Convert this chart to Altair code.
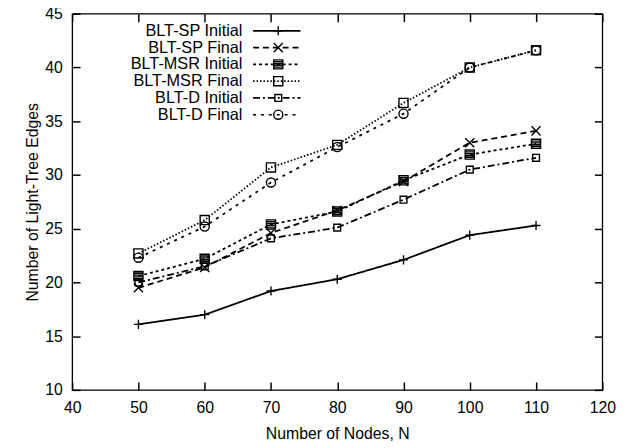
import altair as alt
import pandas as pd

# ---- data ----
nodes = [50, 60, 70, 80, 90, 100, 110]
series_names = ["BLT-SP Initial", "BLT-SP Final", "BLT-MSR Initial",
                "BLT-MSR Final", "BLT-D Initial", "BLT-D Final"]
sp_initial = [16.1, 17.0, 19.2, 20.3, 22.1, 24.4, 25.3]
sp_final = [19.5, 21.4, 24.6, 26.7, 29.4, 33.0, 34.1]
msr_initial = [20.6, 22.2, 25.4, 26.6, 29.5, 31.9, 32.9]
msr_final = [22.7, 25.8, 30.7, 32.8, 36.7, 40.0, 41.6]
d_initial = [20.0, 21.5, 24.1, 25.1, 27.7, 30.5, 31.6]
d_final = [22.3, 25.2, 29.3, 32.6, 35.7, 40.0, 41.6]

x_ticks = [40, 50, 60, 70, 80, 90, 100, 110, 120]
y_ticks = [10, 15, 20, 25, 30, 35, 40, 45]

all_values = [sp_initial, sp_final, msr_initial, msr_final, d_initial, d_final]

# ---- styles ----
FONT = "Liberation Sans"
dashes = [[1, 0], [6, 4], [3, 3], [1.5, 2], [7, 3, 2, 3], [3, 5]]
plus = "M-1,0L1,0M0,-1L0,1"
cross = "M-1,-1L1,1M-1,1L1,-1"
filled_square = ("M-1,-1L1,-1L1,1L-1,1Z"
                 "M-1,-0.6L1,-0.6M-1,-0.2L1,-0.2M-1,0.2L1,0.2M-1,0.6L1,0.6")
open_square = "M-1,-1L1,-1L1,1L-1,1Z"
small_square = "M-0.75,-0.75L0.75,-0.75L0.75,0.75L-0.75,0.75Z"
shapes = [plus, cross, filled_square, open_square, small_square, "circle"]
legend_line = "M-4,0L4,0"
INWARD = {"expr": "-8"}

rows = []
for i, (name, vals) in enumerate(zip(series_names, all_values)):
    for n, v in zip(nodes, vals):
        rows.append({"N": n, "edges": v, "series": name, "marker": f"m{i}"})
df = pd.DataFrame(rows)
marker_names = [f"m{i}" for i in range(len(series_names))]

xscale = alt.Scale(domain=[40, 120], nice=False, zero=False)
yscale = alt.Scale(domain=[10, 45], nice=False, zero=False)

tick_style = dict(ticks=True, tickSize=INWARD, tickColor="black", tickWidth=1.5,
                  domain=False, grid=False)

xaxis = alt.Axis(values=x_ticks, title="Number of Nodes, N", labelPadding=18,
                 labelFlush=False, titlePadding=10, **tick_style)
yaxis = alt.Axis(values=y_ticks, title="Number of Light-Tree Edges", labelPadding=18,
                 titlePadding=4, **tick_style)
xaxis_top = alt.Axis(values=x_ticks, orient="top", labels=False, title=None, **tick_style)
yaxis_right = alt.Axis(values=y_ticks, orient="right", labels=False, title=None, **tick_style)

legend_lines = alt.Legend(title=None, orient="none", legendX=39, legendY=9,
                          symbolType=legend_line, symbolSize=144, symbolOffset=160,
                          symbolStrokeWidth=1.7, symbolStrokeColor="black",
                          labelAlign="right", labelOffset={"expr": "-43"},
                          labelFontSize=16.5, labelFont=FONT, labelColor="black",
                          rowPadding=0, labelLimit=300)
legend_marks = alt.Legend(title=None, orient="none", legendX=200.5, legendY=9,
                          symbolSize=85, symbolStrokeWidth=1.4,
                          symbolStrokeColor="black", labelFontSize=16.5,
                          labelFont=FONT, labelOpacity=0, rowPadding=0)

base = alt.Chart(df)

lines = base.mark_line(color="black", strokeWidth=1.8).encode(
    x=alt.X("N:Q", scale=xscale, axis=xaxis),
    y=alt.Y("edges:Q", scale=yscale, axis=yaxis),
    strokeDash=alt.StrokeDash("series:N",
                              scale=alt.Scale(domain=series_names, range=dashes),
                              legend=legend_lines),
)

points = base.mark_point(filled=False, color="black", strokeWidth=1.4, size=85,
                         opacity=1).encode(
    x=alt.X("N:Q", axis=None),
    y=alt.Y("edges:Q", axis=None),
    shape=alt.Shape("marker:N", scale=alt.Scale(domain=marker_names, range=shapes),
                    legend=legend_marks),
)

xt = pd.DataFrame({"N": x_ticks})
yt = pd.DataFrame({"edges": y_ticks})

# invisible carriers of the mirrored top and right axes
top_axis = alt.Chart(xt).mark_rule(opacity=0).encode(
    x=alt.X("N:Q", scale=xscale, axis=xaxis_top))
right_axis = alt.Chart(yt).mark_rule(opacity=0).encode(
    y=alt.Y("edges:Q", scale=yscale, axis=yaxis_right))

chart = alt.layer(lines, points, top_axis, right_axis).resolve_axis(
    x="independent", y="independent"
).properties(
    width=537, height=381,
    autosize=alt.AutoSizeParams(type="none"),
    padding={"left": 65, "top": 3, "right": 24, "bottom": 56},
    background="white",
).configure_view(
    stroke="black", strokeWidth=1.3
).configure_axis(
    labelFont=FONT, labelFontSize=16, labelColor="black",
    titleFont=FONT, titleFontSize=16, titleFontWeight="normal", titleColor="black",
)

chart.save("out.html", embed_options={"renderer": "svg", "actions": False})
